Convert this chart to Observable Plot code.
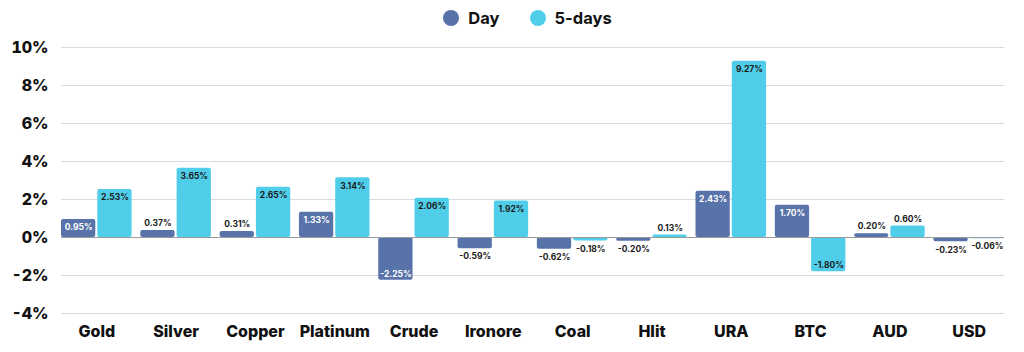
<!DOCTYPE html>
<html>
<head>
<meta charset="utf-8">
<script src="https://cdn.jsdelivr.net/npm/d3@7"></script>
<script src="https://cdn.jsdelivr.net/npm/@observablehq/plot@0.6"></script>
<style>
  html, body { margin: 0; padding: 0; background: #fff; }
  body { width: 1024px; height: 352px; overflow: hidden; font-family: Inter, "Open Sans", sans-serif; }
  #legend { height: 34px; box-sizing: border-box; padding: 1px 20px 0 51px; display: flex; justify-content: center; align-items: center; gap: 30px; font-weight: 700; font-size: 16.5px; color: #111; }
  #legend .item { display: flex; align-items: center; gap: 9px; }
  #legend .sw { width: 16px; height: 16px; border-radius: 50%; display: inline-block; }
</style>
</head>
<body>
<div id="legend"></div>
<div id="chart"></div>
<script>
const categories = ["Gold","Silver","Copper","Platinum","Crude","Ironore","Coal","Hlit","URA","BTC","AUD","USD"];
const dayValues = [0.95, 0.37, 0.31, 1.33, -2.25, -0.59, -0.62, -0.20, 2.43, 1.70, 0.20, -0.23];
const fiveDayValues = [2.53, 3.65, 2.65, 3.14, 2.06, 1.92, -0.18, 0.13, 9.27, -1.80, 0.60, -0.06];
const seriesNames = ["Day", "5-days"];
const seriesColors = ["#5873a9", "#50cee9"];
const yTicks = [-4, -2, 0, 2, 4, 6, 8, 10];

const W = 1024, H = 318, ML = 61, MR = 20, MT = 13, MB = 39;
const padInner = 0.11, pairGap = 2;

const data = [];
categories.forEach((c, i) => {
  data.push({category: c, series: "Day", value: dayValues[i]});
  data.push({category: c, series: "5-days", value: fiveDayValues[i]});
});
const fmt = v => v.toFixed(2) + "%";
const inside = d => Math.abs(d.value) >= 0.9;

// legend
const legend = document.getElementById("legend");
seriesNames.forEach((s, i) => {
  const it = document.createElement("div");
  it.className = "item";
  it.innerHTML = `<span class="sw" style="background:${seriesColors[i]}"></span><span>${s}</span>`;
  legend.appendChild(it);
});

// band geometry (same as the band scale below)
const band = d3.scaleBand().domain(categories).range([ML, W - MR]).paddingInner(padInner).paddingOuter(0);
const bw = band.bandwidth();
const barW = (bw - pairGap) / 2;
const off = barW / 2 + pairGap / 2;

const dayData = data.filter(d => d.series === "Day");
const fiveData = data.filter(d => d.series === "5-days");

function labels(subset, dx) {
  const txt = {x: "category", y: "value", text: d => fmt(d.value), dx, fontSize: 8.5, fontWeight: 700};
  return [
    Plot.text(subset.filter(d => inside(d) && d.value > 0), {...txt, dy: 8, fill: d => d.series === "Day" ? "#ffffff" : "#1a1a1a"}),
    Plot.text(subset.filter(d => inside(d) && d.value < 0), {...txt, dy: -6, fill: d => d.series === "Day" ? "#ffffff" : "#1a1a1a"}),
    Plot.text(subset.filter(d => !inside(d) && d.value > 0), {...txt, dy: -7, fill: "#1a1a1a"}),
    Plot.text(subset.filter(d => !inside(d) && d.value < 0), {...txt, dy: 8, fill: "#1a1a1a"})
  ];
}

const chart = Plot.plot({
  width: W,
  height: H,
  marginLeft: ML,
  marginRight: MR,
  marginTop: MT,
  marginBottom: MB,
  style: {fontFamily: "Inter, sans-serif", background: "#fff"},
  x: {domain: categories, paddingInner: padInner, paddingOuter: 0, round: false, label: null},
  y: {domain: [-4, 10], label: null},
  color: {domain: seriesNames, range: seriesColors},
  marks: [
    Plot.ruleY(yTicks.filter(t => t !== 0), {stroke: "#d6dbe1", strokeWidth: 1.2}),
    Plot.axisY({ticks: yTicks, tickFormat: d => d + "%", tickSize: 0, tickPadding: 13, fontSize: 16, fontWeight: 800, fill: "#111", label: null}),
    Plot.axisX({tickSize: 0, tickPadding: 12, fontSize: 16, fontWeight: 800, fill: "#111", label: null}),
    Plot.barY(dayData, {x: "category", y: "value", fill: "series", rx: 2, insetRight: barW + pairGap}),
    Plot.barY(fiveData, {x: "category", y: "value", fill: "series", rx: 2, insetLeft: barW + pairGap}),
    Plot.ruleY([0], {stroke: "#9a9a9a", strokeWidth: 1.2}),
    ...labels(dayData, -off),
    ...labels(fiveData, off)
  ]
});
document.getElementById("chart").appendChild(chart);
</script>
</body>
</html>
